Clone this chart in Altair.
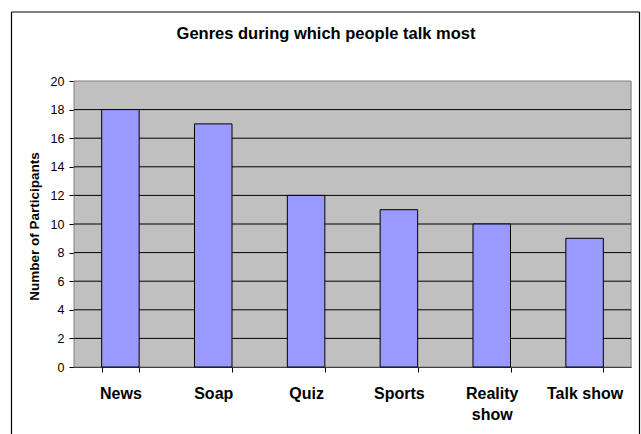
import altair as alt
import pandas as pd

# Survey results: number of participants who talk most during each TV genre
genres = ["News", "Soap", "Quiz", "Sports", "Reality show", "Talk show"]
participants = [18, 17, 12, 11, 10, 9]
y_ticks = [0, 2, 4, 6, 8, 10, 12, 14, 16, 18, 20]
chart_title = "Genres during which people talk most"

df = pd.DataFrame({"genre": genres, "participants": participants})
grid_df = pd.DataFrame({"participants": y_ticks[1:-1]})

FONT = "Liberation Sans"
W, H = 557, 286

one = alt.Data(values=[{}])
y_scale = alt.Scale(domain=[0, 20], nice=False)

# One y-axis definition shared by every layer that encodes y
y_axis = alt.Axis(
    title="Number of Participants",
    titleFont=FONT,
    titleFontSize=13.5,
    titleFontWeight="bold",
    titleColor="black",
    titleX=-40,
    titleY=145,
    titleAlign="center",
    titleBaseline="middle",
    values=y_ticks,
    labelFont=FONT,
    labelFontSize=12.5,
    labelColor="black",
    labelPadding=5,
    labelOverlap=False,
    labelFlush=False,
    tickSize=5,
    tickColor="black",
    domainColor="black",
    grid=False,
)

# Grey plot-area background with a grey border
plot_bg = alt.Chart(one).mark_rect(
    fill="#C0C0C0", stroke="#808080", strokeWidth=1
).encode(x=alt.value(0), x2=alt.value(W), y=alt.value(0), y2=alt.value(H))

# Horizontal gridlines across the plot area
grid = alt.Chart(grid_df).mark_rule(color="black", strokeWidth=1).encode(
    y=alt.Y("participants:Q", scale=y_scale, axis=y_axis),
    x=alt.value(0),
    x2=alt.value(W),
)

# Frame around the whole chart area (left, top and right edges)
frame_left = alt.Chart(one).mark_rule(color="black", strokeWidth=1.2).encode(
    x=alt.value(-62.5), y=alt.value(-69), y2=alt.value(H + 67)
)
frame_top = alt.Chart(one).mark_rule(color="black", strokeWidth=1.2).encode(
    x=alt.value(-62.5), x2=alt.value(565.5), y=alt.value(-69)
)
frame_right = alt.Chart(one).mark_rule(color="black", strokeWidth=1.2).encode(
    x=alt.value(565.5), y=alt.value(-69), y2=alt.value(H + 67)
)

# Chart title
title = alt.Chart(one).mark_text(
    text=chart_title,
    font=FONT,
    fontSize=16.5,
    fontWeight="bold",
    color="black",
    align="center",
    baseline="alphabetic",
).encode(x=alt.value(252), y=alt.value(-42))

bars = alt.Chart(df).mark_bar(
    color="#9999FF", stroke="black", strokeWidth=1
).encode(
    x=alt.X(
        "genre:N",
        sort=None,
        scale=alt.Scale(paddingInner=0.596, paddingOuter=0.298),
        axis=alt.Axis(
            title=None,
            labelAngle=0,
            labelFont=FONT,
            labelFontSize=16,
            labelFontWeight="bold",
            labelColor="black",
            labelPadding=13,
            labelLineHeight=21,
            labelOverlap=False,
            labelExpr="datum.label == 'Reality show' ? ['Reality', 'show'] : datum.label",
            tickBand="extent",
            tickSize=5,
            tickColor="black",
            domainColor="black",
            grid=False,
        ),
    ),
    y=alt.Y("participants:Q", scale=y_scale, axis=y_axis),
)

chart = alt.layer(
    plot_bg, grid, frame_left, frame_top, frame_right, title, bars
).properties(
    width=W,
    height=H,
    autosize=alt.AutoSizeParams(type="none"),
    padding={"left": 74, "top": 81, "right": 10, "bottom": 67},
).configure_view(
    stroke=None
).configure(background="white")

chart.save("out.html", embed_options={"renderer": "svg", "actions": False})
